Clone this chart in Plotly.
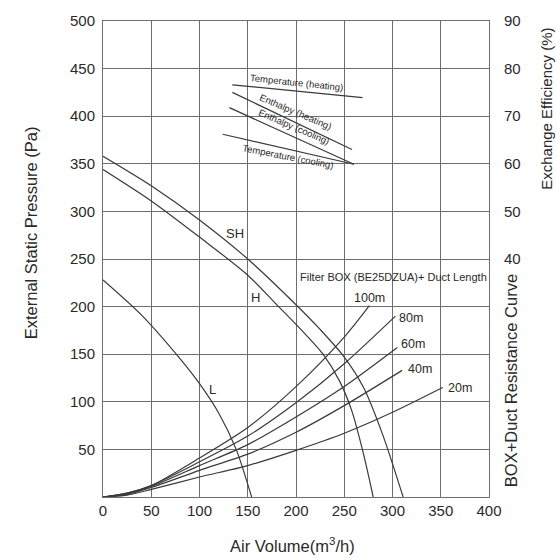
import plotly.graph_objects as go

# ---- data ----
x_ticks = [0, 50, 100, 150, 200, 250, 300, 350, 400]
y_ticks = [50, 100, 150, 200, 250, 300, 350, 400, 450, 500]
eff_ticks = [40, 50, 60, 70, 80, 90]

# fan curves: air volume (m3/h) vs external static pressure (Pa)
air_sh = [0, 50, 100, 150, 200, 225, 250, 270, 290, 311]
p_sh = [358, 327, 291, 250, 202, 176, 147, 115, 65, 0]
air_h = [0, 50, 100, 150, 180, 205, 228, 245, 258, 270, 280]
p_h = [344, 311, 273, 233, 202, 176, 150, 122, 90, 45, 0]
air_l = [0, 40, 80, 100, 120, 138, 154]
p_l = [228, 191, 145, 119, 88, 50, 0]

# filter box + duct resistance curves
air_100 = [0, 25, 50, 100, 150, 200, 250, 276]
p_100 = [0, 4, 12, 41, 73, 116, 168, 201]
air_80 = [0, 25, 50, 100, 150, 200, 250, 303]
p_80 = [0, 4, 12, 37, 64, 99, 140, 190]
air_60 = [0, 25, 50, 100, 150, 200, 250, 305]
p_60 = [0, 3, 11, 33, 55, 84, 116, 157]
air_40 = [0, 25, 50, 100, 150, 200, 250, 310]
p_40 = [0, 3, 10, 28, 45, 68, 96, 133]
air_20 = [0, 25, 50, 100, 150, 200, 250, 300, 352]
p_20 = [0, 2, 8, 21, 33, 49, 67, 89, 115]

# exchange efficiency lines (%)
air_temp_h = [134, 269]
eff_temp_h = [76.6, 73.9]
air_enth_h = [134, 258]
eff_enth_h = [75.0, 63.0]
air_enth_c = [131, 260]
eff_enth_c = [71.8, 59.9]
air_temp_c = [124, 260]
eff_temp_c = [66.2, 59.9]

LINE = "#3a3a3a"
GRID = "#6e6e6e"
TXT = "#2a2a2a"
FONT = "Liberation Sans, Arial, sans-serif"

fig = go.Figure()

def curve(x, y, yaxis="y", spline=True):
    fig.add_trace(go.Scatter(
        x=x, y=y, mode="lines", yaxis=yaxis, showlegend=False, hoverinfo="skip",
        line=dict(color=LINE, width=1.2, shape="spline" if spline else "linear", smoothing=0.8)))

for xs, ys in [(air_sh, p_sh), (air_h, p_h), (air_l, p_l),
               (air_100, p_100), (air_80, p_80), (air_60, p_60),
               (air_40, p_40), (air_20, p_20)]:
    curve(xs, ys)

for xs, ys in [(air_temp_h, eff_temp_h), (air_enth_h, eff_enth_h),
               (air_enth_c, eff_enth_c), (air_temp_c, eff_temp_c)]:
    curve(xs, ys, yaxis="y2", spline=False)

ann = []
def label(text, x, y, size=13, angle=0, xanchor="center", xref="x", yref="y"):
    ann.append(dict(text=text, x=x, y=y, xref=xref, yref=yref, showarrow=False,
                    textangle=angle, xanchor=xanchor, yanchor="middle",
                    font=dict(family=FONT, size=size, color=TXT)))

label("SH", 137, 277, size=13)
label("H", 158.5, 210, size=13)
label("L", 113, 113, size=13)
label("Filter BOX (BE25DZUA)+ Duct Length", 301, 231, size=11)
label("100m", 276, 209, size=12.5)
label("80m", 305, 188, size=12.5, xanchor="left")
label("60m", 307, 161, size=12.5, xanchor="left")
label("40m", 314, 134, size=12.5, xanchor="left")
label("20m", 355, 115, size=12.5, xanchor="left")
label("Temperature (heating)", 201, 435.6, size=9.5, angle=6)
label("Enthalpy (heating)", 199, 404.5, size=9.5, angle=23)
label("Enthalpy (cooling)", 197.5, 389, size=9.5, angle=23)
label("Temperature (cooling)", 192, 358, size=9.5, angle=11)

# axis titles
label("External Static Pressure (Pa)", -0.188, 0.555, size=16.5, angle=-90,
      xref="paper", yref="paper")
label("Exchange Efficiency (%)", 1.147, 0.815, size=15, angle=-90,
      xref="paper", yref="paper")
label("BOX+Duct Resistance Curve", 1.059, 0.245, size=16.5, angle=-90,
      xref="paper", yref="paper")
label("Air Volume(m<sup>3</sup>/h)", 0.49, -0.1, size=16.5,
      xref="paper", yref="paper")

fig.update_layout(
    width=556, height=558,
    margin=dict(l=103, r=67, t=15, b=61),
    paper_bgcolor="white", plot_bgcolor="white",
    font=dict(family=FONT, size=15, color=TXT),
    annotations=ann,
    xaxis=dict(range=[0, 400], tickvals=x_ticks, ticktext=[str(v) for v in x_ticks],
               showgrid=True, gridcolor=GRID, gridwidth=1,
               showline=True, linecolor=GRID, linewidth=1, mirror=True,
               zeroline=False, ticks="", tickfont=dict(size=15, color=TXT)),
    yaxis=dict(range=[0, 500], tickvals=y_ticks, ticktext=[str(v) for v in y_ticks],
               showgrid=True, gridcolor=GRID, gridwidth=1,
               showline=True, linecolor=GRID, linewidth=1, mirror=True,
               zeroline=False, ticks="", ticklabelstandoff=4,
               tickfont=dict(size=15, color=TXT)),
    yaxis2=dict(range=[-10, 90], tickvals=eff_ticks, ticktext=[str(v) for v in eff_ticks],
                overlaying="y", side="right", showgrid=False, zeroline=False,
                showline=False, ticks="", ticklabelstandoff=14,
                tickfont=dict(size=15, color=TXT)),
)

fig.write_html("out.html")
